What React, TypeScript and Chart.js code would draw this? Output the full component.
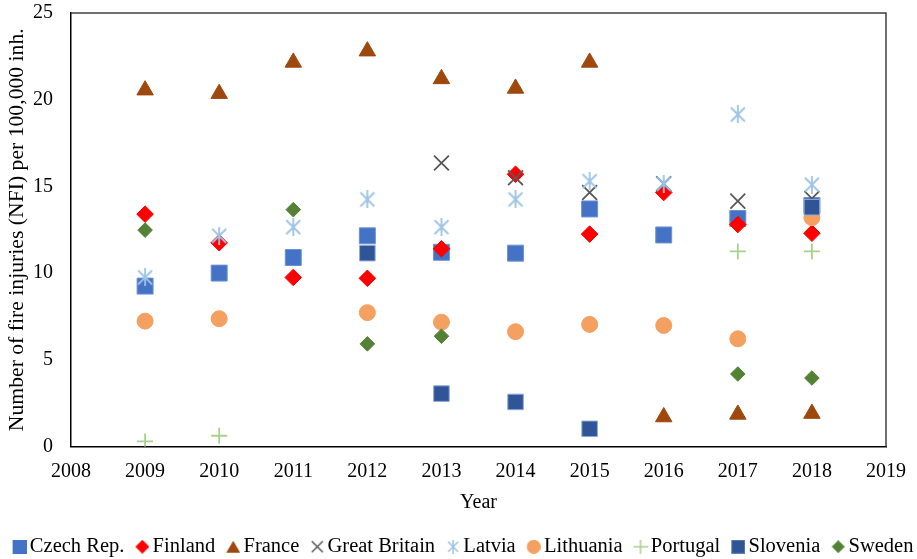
import React, { useEffect, useRef } from "react";
import { Chart, registerables } from "chart.js";

Chart.register(...registerables);

const years = [2009, 2010, 2011, 2012, 2013, 2014, 2015, 2016, 2017, 2018];

const seriesNames = [
  "Czech Rep.",
  "Finland",
  "France",
  "Great Britain",
  "Latvia",
  "Lithuania",
  "Portugal",
  "Slovenia",
  "Sweden",
];

const czech = [9.25, 10.0, 10.9, 12.15, 11.2, 11.15, 13.7, 12.2, 13.15, 13.9];
const finland = [13.4, 11.75, 9.75, 9.7, 11.4, 15.7, 12.25, 14.65, 12.8, 12.3];
const france = [20.55, 20.35, 22.15, 22.8, 21.2, 20.65, 22.15, 1.7, 1.85, 1.9];
const greatBritain = [null, null, null, null, 16.35, 15.5, 14.65, 15.15, 14.15, 14.3];
const latvia = [9.75, 12.15, 12.65, 14.25, 12.65, 14.25, 15.3, 15.15, 19.15, 15.1];
const lithuania = [7.23, 7.37, null, 7.72, 7.17, 6.62, 7.04, 6.98, 6.21, 13.2];
const portugal = [0.29, 0.62, null, null, null, null, null, null, 11.25, 11.25];
const slovenia = [null, null, null, 11.15, 3.05, 2.57, 1.02, null, null, 13.8];
const sweden = [12.48, null, 13.66, 5.92, 6.36, null, null, null, 4.18, 3.95];

const xTicks = { min: 2008, max: 2019, step: 1 };
const yTicks = { min: 0, max: 25, step: 5 };

const xTitle = "Year";
const yTitle = "Number of fire injuries (NFI) per 100,000 inh.";

// draws a marker into an offscreen canvas; `shift` pushes the marker right inside a wider canvas
function makeMarker(shape: string, color: string, size: number, lw = 1.5, border?: string, shift = 0) {
  const c = document.createElement("canvas");
  c.width = size + 2 * shift;
  c.height = size;
  const ctx = c.getContext("2d")!;
  ctx.translate(2 * shift, 0);
  ctx.fillStyle = color;
  ctx.strokeStyle = color;
  ctx.lineWidth = lw;
  const h = size / 2;
  ctx.beginPath();
  if (shape === "square") {
    ctx.fillRect(0, 0, size, size);
    if (border) {
      ctx.strokeStyle = border;
      ctx.lineWidth = 1;
      ctx.setLineDash([1, 1]);
      ctx.strokeRect(0.5, 0.5, size - 1, size - 1);
    }
  } else if (shape === "diamond") {
    ctx.moveTo(h, 0);
    ctx.lineTo(size, h);
    ctx.lineTo(h, size);
    ctx.lineTo(0, h);
    ctx.closePath();
    ctx.fill();
  } else if (shape === "triangle") {
    ctx.moveTo(h, 1);
    ctx.lineTo(size, size - 1);
    ctx.lineTo(0, size - 1);
    ctx.closePath();
    ctx.fill();
  } else if (shape === "circle") {
    ctx.arc(h, h, h, 0, Math.PI * 2);
    ctx.fill();
  } else if (shape === "x") {
    const m = 1;
    ctx.moveTo(m, m);
    ctx.lineTo(size - m, size - m);
    ctx.moveTo(size - m, m);
    ctx.lineTo(m, size - m);
    ctx.stroke();
  } else if (shape === "plus") {
    ctx.moveTo(h, 0);
    ctx.lineTo(h, size);
    ctx.moveTo(0, h);
    ctx.lineTo(size, h);
    ctx.stroke();
  } else if (shape === "asterisk") {
    const m = 1;
    ctx.moveTo(h, 0);
    ctx.lineTo(h, size);
    ctx.moveTo(m + 1, m + 1);
    ctx.lineTo(size - m - 1, size - m - 1);
    ctx.moveTo(size - m - 1, m + 1);
    ctx.lineTo(m + 1, size - m - 1);
    ctx.stroke();
  }
  return c;
}

const toPoints = (vals: (number | null)[]) =>
  years
    .map((yr, i) => ({ x: yr, y: vals[i] }))
    .filter((p) => p.y !== null) as { x: number; y: number }[];

export default function App() {
  const ref = useRef<HTMLCanvasElement | null>(null);

  useEffect(() => {
    if (!ref.current) return;
    const font = "'Liberation Serif', 'Times New Roman', serif";
    Chart.defaults.font.family = font;
    Chart.defaults.font.size = 20;
    Chart.defaults.color = "#000000";

    const star = makeMarker("asterisk", "#9DC3E6", 18, 1.8);

    const sh = 8;
    const legendMarkers = [
      makeMarker("square", "#4472C4", 14, 1, undefined, sh),
      makeMarker("diamond", "#FF0000", 14, 1, undefined, sh),
      makeMarker("triangle", "#9E480E", 14, 1, undefined, sh),
      makeMarker("x", "#595959", 13, 1.5, undefined, sh),
      makeMarker("asterisk", "#9DC3E6", 14, 1.5, undefined, sh),
      makeMarker("circle", "#F4A060", 14, 1, undefined, sh),
      makeMarker("plus", "#A9D18E", 14, 1.5, undefined, sh),
      makeMarker("square", "#2F5597", 14, 1, "#8FAADC", sh),
      makeMarker("diamond", "#548235", 13, 1, undefined, sh),
    ];

    const styles: any[] = [
      { pointStyle: "rect", pointRadius: 11.3, backgroundColor: "#4472C4", borderColor: "#6F93D3", borderWidth: 1 },
      { pointStyle: "rectRot", pointRadius: 8.3, backgroundColor: "#FF0000", borderColor: "#FF0000", borderWidth: 1 },
      { pointStyle: "triangle", pointRadius: 9.5, backgroundColor: "#9E480E", borderColor: "#9E480E", borderWidth: 1 },
      { pointStyle: "crossRot", pointRadius: 10.5, backgroundColor: "#595959", borderColor: "#595959", borderWidth: 1.8 },
      { pointStyle: star, pointRadius: 9, backgroundColor: "#9DC3E6", borderColor: "#9DC3E6", borderWidth: 1.8 },
      { pointStyle: "circle", pointRadius: 8, backgroundColor: "#F4A060", borderColor: "#F4A060", borderWidth: 1 },
      { pointStyle: "cross", pointRadius: 8, backgroundColor: "#A9D18E", borderColor: "#A9D18E", borderWidth: 1.8 },
      { pointStyle: "rect", pointRadius: 11, backgroundColor: "#2F5597", borderColor: "#8FAADC", borderWidth: 1 },
      { pointStyle: "rectRot", pointRadius: 7.3, backgroundColor: "#548235", borderColor: "#548235", borderWidth: 1 },
    ];
    const values = [czech, finland, france, greatBritain, latvia, lithuania, portugal, slovenia, sweden];

    const datasets = seriesNames.map((name, i) => ({
      label: name,
      data: toPoints(values[i]),
      showLine: false,
      order: seriesNames.length - i,
      pointHoverRadius: styles[i].pointRadius,
      ...styles[i],
    }));

    const boxPlugin = {
      id: "boxPlugin",
      beforeDatasetsDraw(chart: any) {
        const { ctx, chartArea } = chart;
        ctx.save();
        ctx.strokeStyle = "#404040";
        ctx.lineWidth = 1.5;
        ctx.beginPath();
        ctx.moveTo(chartArea.left, chartArea.top);
        ctx.lineTo(chartArea.right, chartArea.top);
        ctx.lineTo(chartArea.right, chartArea.bottom);
        ctx.stroke();
        ctx.restore();
      },
    };

    const chart = new Chart(ref.current, {
      type: "scatter",
      data: { datasets },
      plugins: [boxPlugin],
      options: {
        animation: false,
        responsive: false,
        maintainAspectRatio: false,
        layout: { padding: { top: 0, right: 0, left: 0, bottom: -8 } },
        scales: {
          x: {
            type: "linear",
            min: xTicks.min,
            max: xTicks.max,
            grid: { display: false, drawTicks: false },
            border: { display: true, color: "#000000", width: 1.5 },
            ticks: {
              stepSize: xTicks.step,
              padding: 13,
              maxRotation: 0,
              callback: (v: any) => String(v),
              font: { size: 20, lineHeight: 1.2 },
              color: "#000000",
            },
            title: {
              display: true,
              text: xTitle,
              font: { size: 20, lineHeight: 1.2 },
              padding: { top: 4, bottom: 20 },
              color: "#000000",
            },
            afterFit: (s: any) => {
              s.height = 88;
              s.paddingRight = 31;
            },
          },
          y: {
            min: yTicks.min,
            max: yTicks.max,
            grid: { display: false, drawTicks: false },
            border: { display: true, color: "#000000", width: 1.5 },
            ticks: { stepSize: yTicks.step, padding: 18, font: { size: 20 }, color: "#000000" },
            title: {
              display: true,
              text: yTitle,
              font: { size: 21.7, lineHeight: 1.2 },
              padding: { top: 4, bottom: 0 },
              color: "#000000",
            },
            afterFit: (s: any) => {
              s.width = 71;
              s.paddingTop = 13;
              s.paddingBottom = 0;
            },
          },
        },
        plugins: {
          tooltip: { enabled: false },
          legend: {
            position: "bottom",
            labels: {
              usePointStyle: true,
              boxHeight: 14,
              boxWidth: 16,
              pointStyleWidth: 16,
              padding: 2,
              font: { size: 20.5 },
              color: "#000000",
              sort: (a: any, b: any) => a.datasetIndex - b.datasetIndex,
              generateLabels: (chart: any) => {
                const items = Chart.defaults.plugins.legend.labels.generateLabels(chart);
                return items.map((it: any) => {
                  it.pointStyle = legendMarkers[it.datasetIndex];
                  return it;
                });
              },
            },
          },
        },
      },
    });
    return () => chart.destroy();
  }, []);

  return (
    <div style={{ position: "absolute", left: 0, top: 0, width: 917, height: 559, background: "#ffffff" }}>
      <canvas ref={ref} width={917} height={559} style={{ width: 917, height: 559 }} />
    </div>
  );
}
